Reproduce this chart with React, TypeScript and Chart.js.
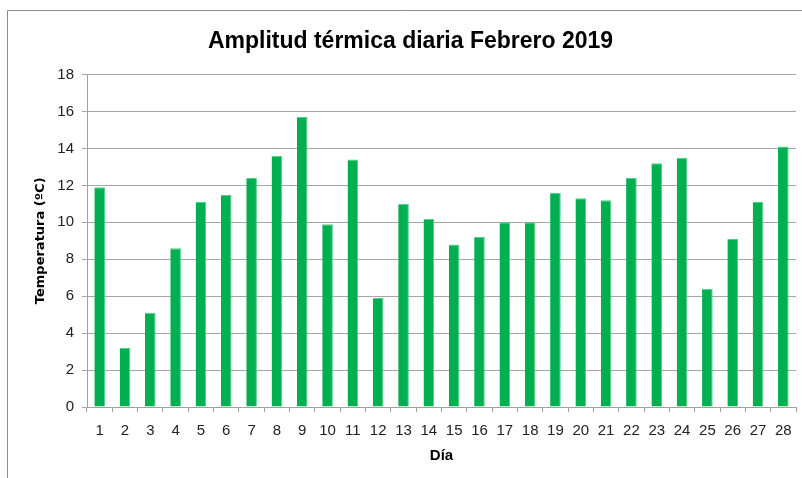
import React, { useEffect, useRef } from "react";
import { Chart, registerables } from "chart.js";

Chart.register(...registerables);

const days: string[] = [
  "1", "2", "3", "4", "5", "6", "7", "8", "9", "10", "11", "12", "13", "14",
  "15", "16", "17", "18", "19", "20", "21", "22", "23", "24", "25", "26", "27", "28",
];
const amplitude: number[] = [
  11.9, 3.2, 5.1, 8.6, 11.1, 11.5, 12.4, 13.6, 15.7, 9.9, 13.4, 5.9, 11.0, 10.2,
  8.8, 9.2, 10.0, 10.0, 11.6, 11.3, 11.2, 12.4, 13.2, 13.5, 6.4, 9.1, 11.1, 14.1,
];
const titleText = "Amplitud térmica diaria Febrero 2019";
const yTitle = "Temperatura (ºC)";
const xTitle = "Día";

const frame = {
  id: "frame",
  beforeDraw(chart: any) {
    const ctx = chart.ctx;
    ctx.save();
    ctx.fillStyle = "#ffffff";
    ctx.fillRect(0, 0, chart.width, chart.height);
    ctx.strokeStyle = "#8c8c8c";
    ctx.lineWidth = 1;
    ctx.beginPath();
    ctx.moveTo(7.5, chart.height);
    ctx.lineTo(7.5, 10.5);
    ctx.lineTo(chart.width, 10.5);
    ctx.stroke();
    ctx.restore();
  },
};

export default function App() {
  const ref = useRef<HTMLCanvasElement>(null);
  useEffect(() => {
    document.body.style.margin = "0";
    const chart = new Chart(ref.current!, {
      type: "bar",
      data: {
        labels: days,
        datasets: [
          {
            data: amplitude,
            backgroundColor: "#00b050",
            borderColor: "#4fd08a",
            borderWidth: { top: 1, left: 0, right: 1, bottom: 0 } as any,
            barPercentage: 0.42,
            categoryPercentage: 1,
          },
        ],
      },
      plugins: [frame],
      options: {
        responsive: false,
        animation: false,
        layout: { padding: { left: 25, right: 6, top: 0, bottom: 0 } },
        plugins: {
          legend: { display: false },
          tooltip: { enabled: false },
          title: {
            display: true,
            text: titleText,
            color: "#000000",
            font: { family: "'Liberation Sans', sans-serif", size: 23, weight: "bold", lineHeight: 1.2 },
            padding: { top: 28, bottom: 19 },
          },
        },
        scales: {
          x: {
            offset: true,
            afterFit: (s: any) => { s.height = 71; },
            grid: {
              offset: true,
              drawOnChartArea: false,
              drawTicks: true,
              tickLength: 5,
              color: "#a0a0a0",
            },
            border: { color: "#a0a0a0" },
            ticks: {
              color: "#222222",
              padding: 10,
              maxRotation: 0,
              autoSkip: false,
              font: { family: "'Liberation Sans', sans-serif", size: 15 },
            },
            title: {
              display: true,
              text: xTitle,
              color: "#000000",
              font: { family: "'Liberation Sans', sans-serif", size: 15, weight: "bold", lineHeight: 1.2 },
              padding: { top: 0, bottom: 13 },
            },
          },
          y: {
            min: 0,
            max: 18,
            afterFit: (s: any) => { s.width = 62; },
            grid: {
              color: "#a6a6a6",
              tickLength: 5,
            },
            border: { color: "#a0a0a0" },
            ticks: {
              stepSize: 2,
              color: "#222222",
              padding: 8,
              font: { family: "'Liberation Sans', sans-serif", size: 15 },
            },
            title: {
              display: true,
              text: yTitle,
              color: "#000000",
              font: { family: "'DejaVu Sans', sans-serif", size: 13, weight: "bold", lineHeight: 1.2 },
              padding: { top: 8, bottom: 8 },
            },
          },
        },
      },
    });
    return () => chart.destroy();
  }, []);
  return <canvas ref={ref} width={802} height={478} style={{ display: "block" }} />;
}
